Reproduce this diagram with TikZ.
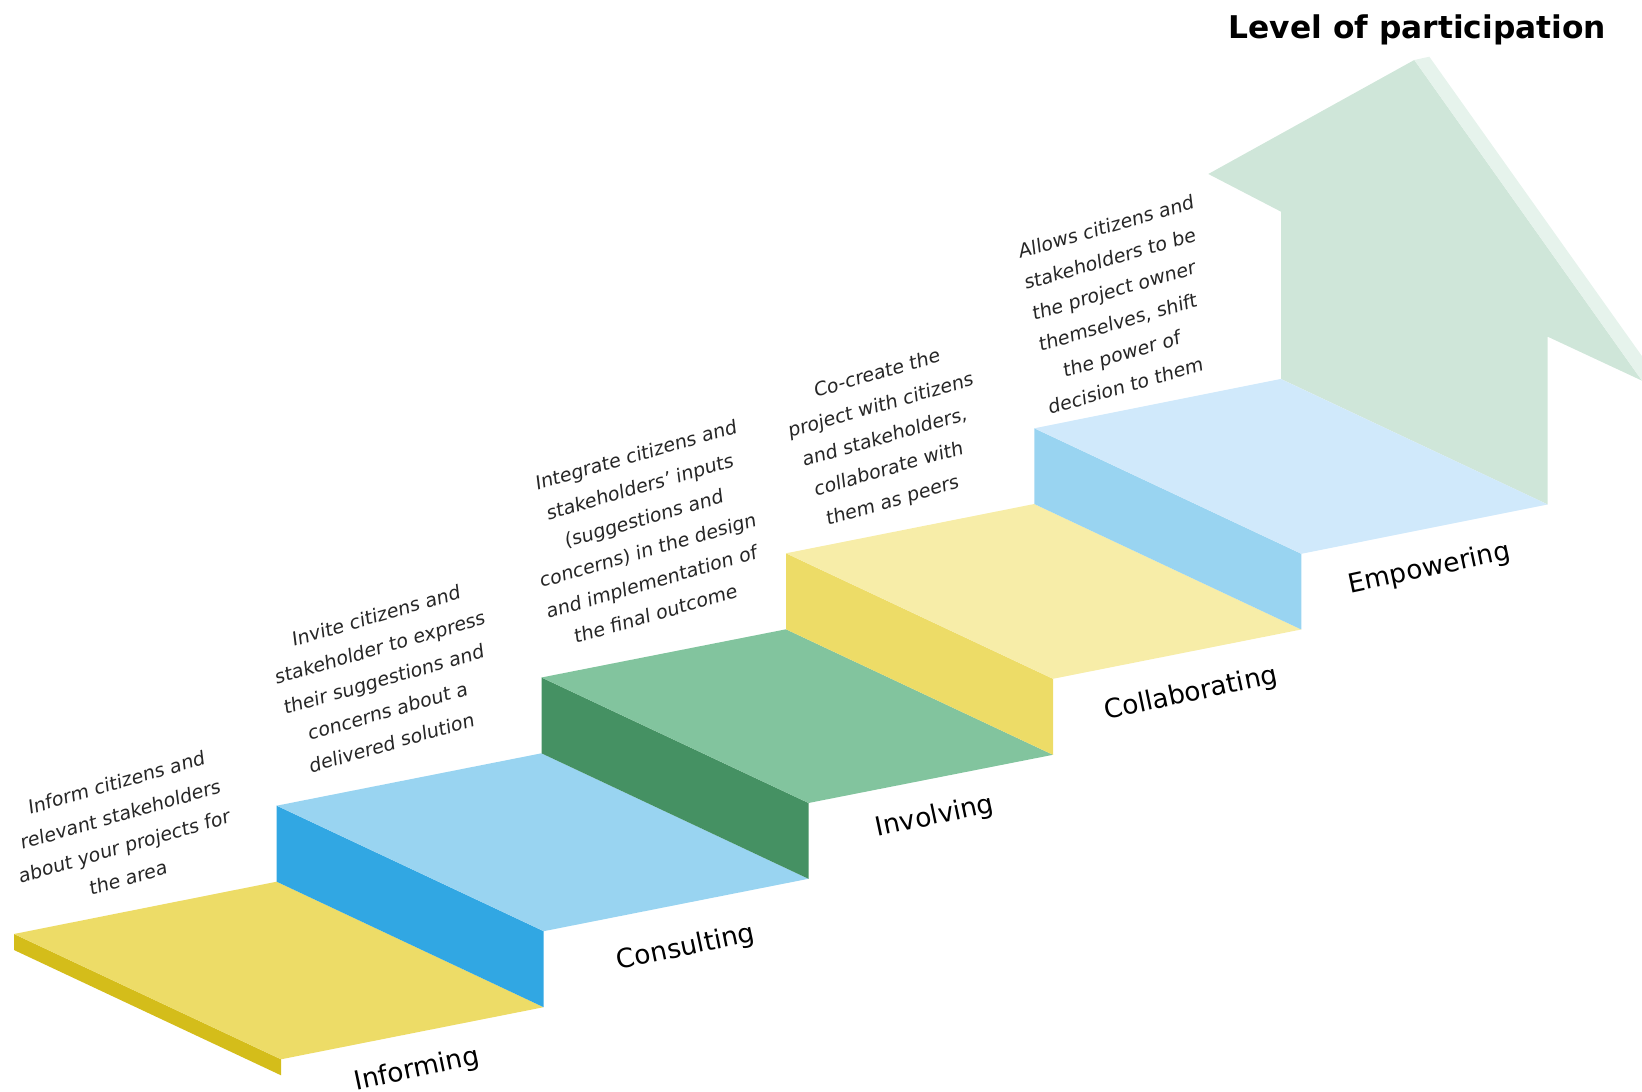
\documentclass[tikz,border=0pt]{standalone}
\usepackage{fontspec}
\setmainfont{DejaVu Sans}
\definecolor{treadyellow}{HTML}{EDDC67}
\definecolor{edgeyellow}{HTML}{D4BD1A}
\definecolor{riserblue}{HTML}{31A7E3}
\definecolor{treadblue}{HTML}{99D4F1}
\definecolor{risergreen}{HTML}{459163}
\definecolor{treadgreen}{HTML}{82C49E}
\definecolor{treadpale}{HTML}{F7EDA8}
\definecolor{treadsky}{HTML}{D0E9FB}
\definecolor{arrowgreen}{HTML}{CFE6D9}
\definecolor{arrowedge}{HTML}{E6F3EC}
\tikzset{
  desc/.style={align=center, inner sep=0pt, text=black!85,
    font=\fontsize{5.45}{9.1}\selectfont, cm={0.961,0.276,-0.122,0.993,(0,0)}},
  steplabel/.style={inner sep=0pt, rotate=12, font=\fontsize{7.5}{9}\selectfont},
}

\begin{document}
\begin{tikzpicture}[x=0.01cm, y=-0.01cm]
		\useasboundingbox (0,0) rectangle (1642,1092);
		%%%%% START %%%%%
		
		% Informing
		\fill[edgeyellow] (14,934) -- (281,1059.3) -- (281,1075.3) -- (14,950) -- cycle;
		\fill[treadyellow] (14,934) -- (276.7,881.7) -- (543.7,1007.2) -- (281,1059.3) -- cycle;
		
		% Consulting
		\fill[riserblue] (276.7,805.7) -- (543.7,931.2) -- (543.7,1007.2) -- (276.7,881.7) -- cycle;
		\fill[treadblue] (276.7,805.7) -- (541.5,753.3) -- (808.5,878.8) -- (543.7,931.2) -- cycle;
		
		% Involving
		\fill[risergreen] (541.5,677.5) -- (808.5,803) -- (808.5,878.8) -- (541.5,753.3) -- cycle;
		\fill[treadgreen] (541.5,677.5) -- (786,629.3) -- (1053,754.8) -- (808.5,803) -- cycle;
		
		% Collaborating
		\fill[treadyellow] (786,553.3) -- (1053,678.8) -- (1053,754.8) -- (786,629.3) -- cycle;
		\fill[treadpale] (786,553.3) -- (1034.3,504) -- (1301.3,629.5) -- (1053,678.8) -- cycle;
		
		% arrow
		\fill[arrowgreen] (1281,379) -- (1281,211.7) -- (1208.3,174) -- (1414.3,60) -- (1642,380.7)
		  -- (1547.7,336.7) -- (1547.7,504.5) -- cycle;
		\fill[arrowedge] (1414.3,60) -- (1429.3,56.7) -- (1642,356.2) -- (1642,380.7) -- cycle;
		
		% Empowering
		\fill[treadblue] (1034.3,428.3) -- (1301.3,553.8) -- (1301.3,629.5) -- (1034.3,504) -- cycle;
		\fill[treadsky] (1034.3,428.3) -- (1280.7,379) -- (1547.7,504.5) -- (1301.3,553.8) -- cycle;
		
		% labels
		\node[steplabel] (inform) at (417,1070) {Informing};
		\node[steplabel] (consult) at (686,948) {Consulting};
		\node[steplabel] (involve) at (935,817) {Involving};
		\node[steplabel] (collab) at (1191,694) {Collaborating};
		\node[steplabel] (empower) at (1429.5,569) {Empowering};
		
		\node[desc] (informtxt) at (122.5,830) {Inform citizens and\\relevant stakeholders\\about your projects for\\the area};
		\node[desc] (consulttxt) at (384,679) {Invite citizens and\\stakeholder to express\\their suggestions and\\concerns about a\\delivered solution};
		\node[desc] (involvetxt) at (646,534) {Integrate citizens and\\stakeholders’ inputs\\(suggestions and\\concerns) in the design\\and implementation of\\the final outcome};
		\node[desc] (collabtxt) at (885,438) {Co-create the\\project with citizens\\and stakeholders,\\collaborate with\\them as peers};
		\node[desc] (empowertxt) at (1116,306) {Allows citizens and\\stakeholders to be\\the project owner\\themselves, shift\\the power of\\decision to them};
		
		\node[anchor=base, inner sep=0pt, font=\fontsize{8.9}{11}\selectfont\bfseries] (title) at (1417.5,38.9) {Level of participation};
		
		%%%%% END %%%%%
	\end{tikzpicture}
\end{document}
